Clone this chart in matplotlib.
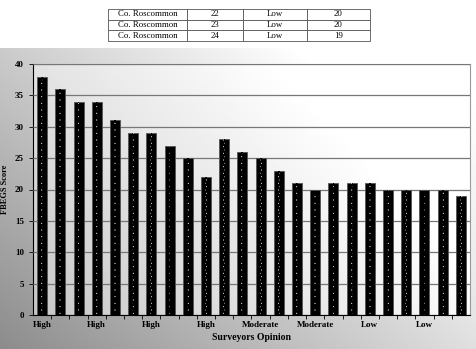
import numpy as np
import matplotlib.pyplot as plt

plt.rcParams['font.family'] = ['Liberation Serif', 'DejaVu Serif']
plt.rcParams['hatch.linewidth'] = 0.35

# data
scores = [38, 36, 34, 34, 31, 29, 29, 27, 25, 22, 28, 26,
          25, 23, 21, 20, 21, 21, 21, 20, 20, 20, 20, 19]
opinion_labels = ['High', 'High', 'High', 'High', 'Moderate', 'Moderate', 'Low', 'Low']
label_every = 3

table_rows = [
    ['Co. Roscommon', '22', 'Low', '20'],
    ['Co. Roscommon', '23', 'Low', '20'],
    ['Co. Roscommon', '24', 'Low', '19'],
]

W, H = 477, 349
fig = plt.figure(figsize=(W / 100, H / 100), dpi=100)
fig.patch.set_facecolor('white')

# chart background (grey diagonal gradient)
bg = fig.add_axes([0, 0, 1, 301 / H])
bg.set_axis_off()
yy, xx = np.mgrid[0:1:200j, 0:1:300j]
grad = 0.55 + 0.45 * np.clip((xx * 0.8 + yy * 0.6) / 1.1, 0, 1)
grad = np.minimum(grad, 0.55 + 0.45 * np.clip(1.6 - xx - 0.3 * (1 - yy), 0, 1) + 0.2)
bg.imshow(grad, cmap='gray', vmin=0, vmax=1, aspect='auto', origin='lower',
          extent=[0, 1, 0, 1])
bg.set_xlim(0, 1)
bg.set_ylim(0, 1)

# table at top
tax = fig.add_axes([108 / W, (H - 41) / H, (370 - 108) / W, 32 / H])
tax.set_axis_off()
tbl = tax.table(cellText=table_rows, cellLoc='center', loc='center',
                colWidths=[79, 56, 64, 63], bbox=[0, 0, 1, 1])
tbl.auto_set_font_size(False)
for (r, c), cell in tbl.get_celld().items():
    cell.set_fontsize(6.3)
    cell.set_linewidth(0.6)
    cell.set_edgecolor('#555555')
    if c == 0:
        cell._loc = 'left'
        cell.PAD = 0.05

# main plot
ax = fig.add_axes([33 / W, (H - 315) / H, (470 - 33) / W, (315 - 64) / H])
x = np.arange(len(scores))

# plot-area gradient
pg = 0.78 + 0.22 * np.clip((xx * 0.9 + yy * 0.5) / 1.0, 0, 1)
ax.imshow(pg, cmap='gray', vmin=0, vmax=1, aspect='auto', origin='lower',
          extent=[-0.5, len(scores) - 0.5, 0, 40], zorder=0)

ax.bar(x, scores, width=0.55, color='black', edgecolor='#555555', linewidth=0.6, zorder=3)
ax.bar(x, scores, width=0.1, color='black', edgecolor='#dddddd', hatch='.....',
       linewidth=0, zorder=4)

ax.set_xlim(-0.5, len(scores) - 0.5)
ax.set_ylim(0, 40)
ax.set_yticks(np.arange(0, 41, 5))
ax.yaxis.grid(True, color='#777777', linewidth=0.9, zorder=1)
ax.set_axisbelow(False)

ax.set_xticks(x[::label_every])
ax.set_xticklabels(opinion_labels, fontweight='bold', fontsize=6.5)
ax.set_xticks(np.arange(0.5, len(scores) - 0.5, 1), minor=True)
ax.tick_params(axis='x', which='major', length=0, pad=4)
ax.tick_params(axis='x', which='minor', length=3, width=0.6)
ax.tick_params(axis='y', length=3, width=0.6, labelsize=6.5)
for t in ax.get_yticklabels():
    t.set_fontweight('bold')

ax.set_ylabel('FBEGS Score', fontweight='bold', fontsize=6, labelpad=4)
ax.set_xlabel('Surveyors Opinion', fontweight='bold', fontsize=7, labelpad=3)

for s in ['top', 'right']:
    ax.spines[s].set_color('#999999')
for s in ['left', 'bottom']:
    ax.spines[s].set_color('black')
    ax.spines[s].set_linewidth(0.8)

fig.savefig('out.png', dpi=100)
